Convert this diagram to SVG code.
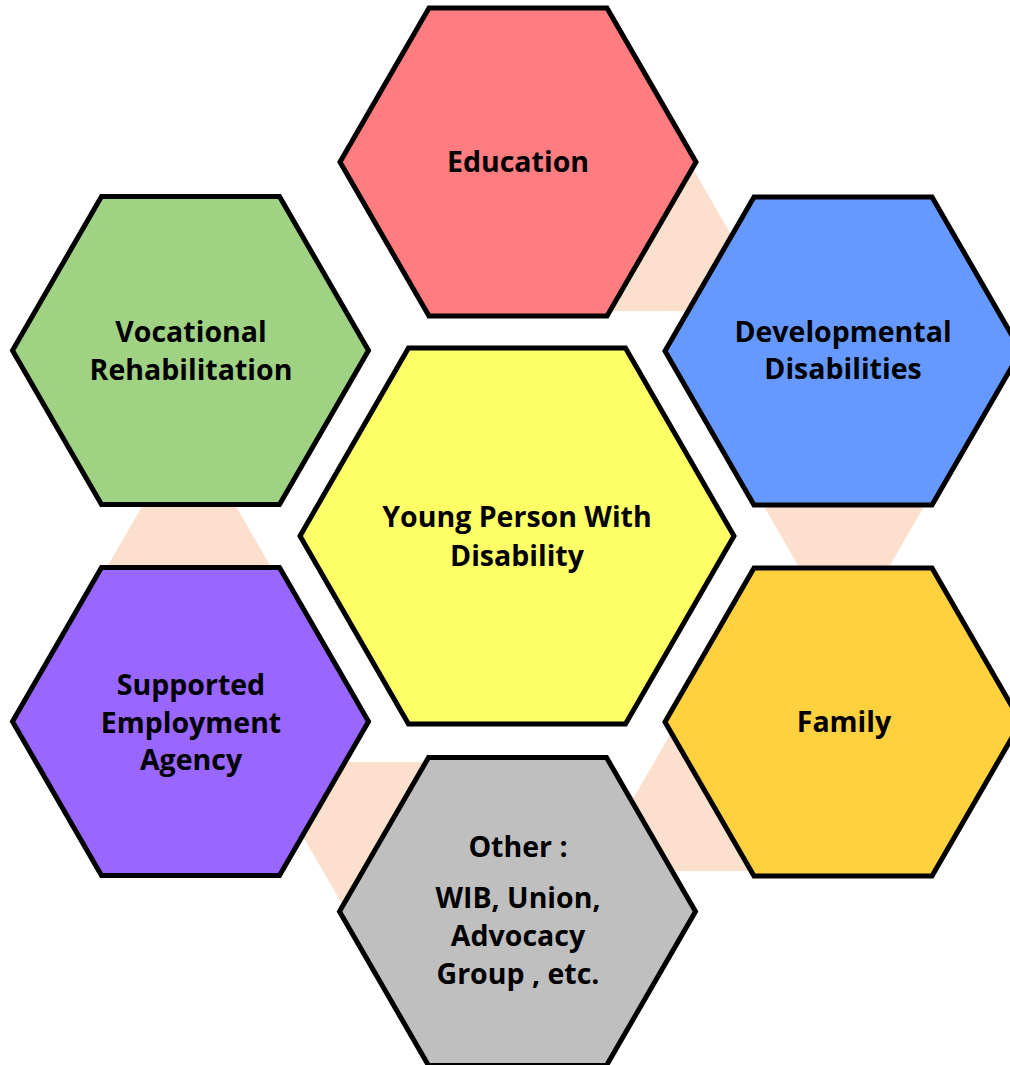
<svg xmlns="http://www.w3.org/2000/svg" width="1010" height="1065" viewBox="0 0 1010 1065">
<style>
.hex{stroke:#000;stroke-width:5;stroke-linejoin:miter}
.link{fill:#FCDFCC}
text{font-family:"Open Sans","Lato","Liberation Sans",sans-serif;font-weight:bold;font-size:28.5px;fill:#000;text-anchor:middle}
</style>
<rect width="1010" height="1065" fill="#fff"/>
<g id="connectors">
<polygon class="link" points="688,160 775,311 601,311"/>
<polygon class="link" points="189,425 290,600 88,600"/>
<polygon class="link" points="844,645 743,470 945,470"/>
<polygon class="link" points="690,700 788.5,871 591.5,871"/>
<polygon class="link" points="260,762 454,762 357,930"/>
</g>
<g id="education">
<polygon class="hex" fill="#FF7C80" points="340,162 429,8 607,8 696,162 607,316 429,316"/>
<text x="518" y="172">Education</text>
</g>
<g id="vocational">
<polygon class="hex" fill="#A0D283" points="12.5,350.5 101.5,196.5 279.5,196.5 368.5,350.5 279.5,504.5 101.5,504.5"/>
<text x="191" y="342">Vocational</text>
<text x="191" y="380">Rehabilitation</text>
</g>
<g id="developmental">
<polygon class="hex" fill="#6699FF" points="665,351 754,197 932,197 1021,351 932,505 754,505"/>
<text x="843" y="342">Developmental</text>
<text x="843" y="379">Disabilities</text>
</g>
<g id="supported">
<polygon class="hex" fill="#9966FF" points="12.5,721.5 101.5,567.5 279.5,567.5 368.5,721.5 279.5,875.5 101.5,875.5"/>
<text x="191" y="695">Supported</text>
<text x="191" y="733">Employment</text>
<text x="191" y="770">Agency</text>
</g>
<g id="family">
<polygon class="hex" fill="#FFD13F" points="665,722 754,568 932,568 1021,722 932,876 754,876"/>
<text x="844" y="732">Family</text>
</g>
<g id="other">
<polygon class="hex" fill="#BFBFBF" points="339.5,911.5 428.5,757.5 606.5,757.5 695.5,911.5 606.5,1065.5 428.5,1065.5"/>
<text x="518" y="857">Other :</text>
<text x="518" y="908">WIB, Union,</text>
<text x="518" y="946">Advocacy</text>
<text x="518" y="984">Group , etc.</text>
</g>
<g id="center">
<polygon class="hex" fill="#FFFF66" points="300,536 408.5,348 625.5,348 734,536 625.5,724 408.5,724"/>
<text x="517" y="527">Young Person With</text>
<text x="517" y="566">Disability</text>
</g>
</svg>
